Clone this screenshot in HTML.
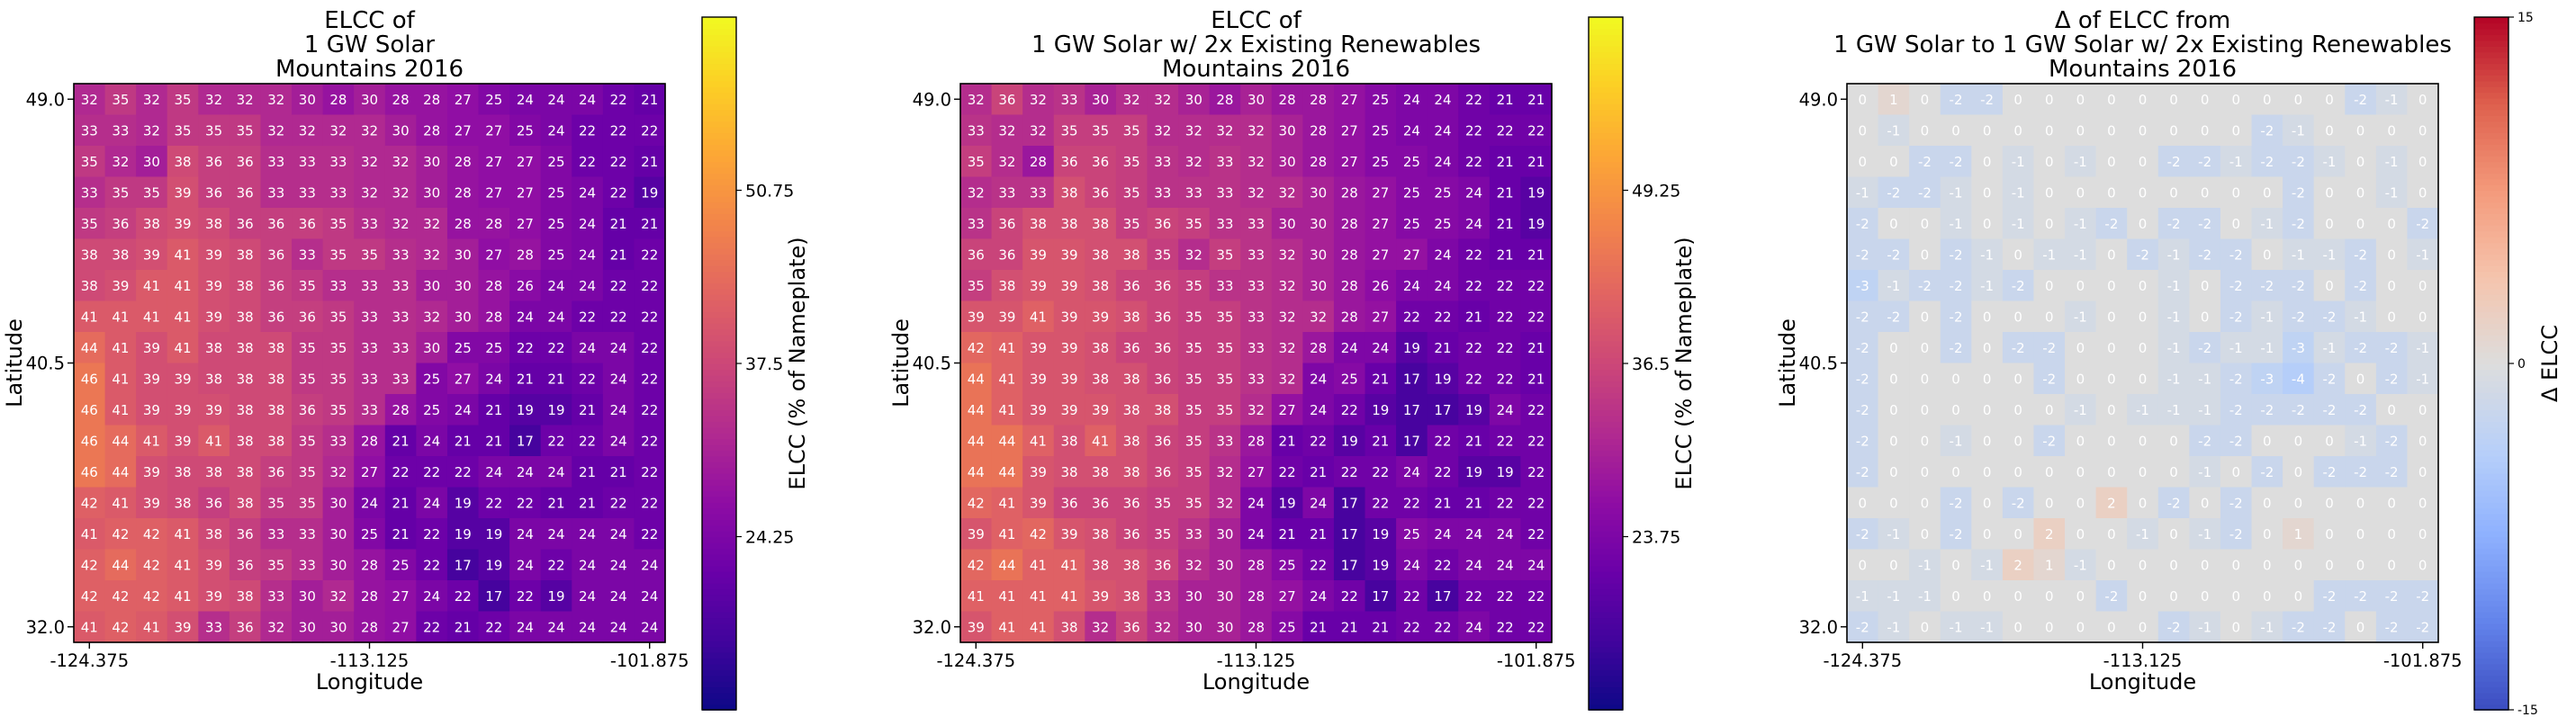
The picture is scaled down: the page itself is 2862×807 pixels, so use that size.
<!DOCTYPE html>
<html><head><meta charset="utf-8">
<style>
html,body{margin:0;padding:0;background:#fff;}
svg{display:block;font-family:"DejaVu Sans","Liberation Sans",sans-serif;}
</style></head>
<body>
<svg id="fig" width="2862" height="807" viewBox="0 0 2862 807" xmlns="http://www.w3.org/2000/svg"></svg>
<script>
const xTickLabels = ["-124.375","-113.125","-101.875"];
const xTickIdx = [0,9,18];
const yTickLabels = ["49.0","40.5","32.0"];
const yTickIdx = [0,8.5,17];
const elccSolar = [
[32,35,32,35,32,32,32,30,28,30,28,28,27,25,24,24,24,22,21],
[33,33,32,35,35,35,32,32,32,32,30,28,27,27,25,24,22,22,22],
[35,32,30,38,36,36,33,33,33,32,32,30,28,27,27,25,22,22,21],
[33,35,35,39,36,36,33,33,33,32,32,30,28,27,27,25,24,22,19],
[35,36,38,39,38,36,36,36,35,33,32,32,28,28,27,25,24,21,21],
[38,38,39,41,39,38,36,33,35,35,33,32,30,27,28,25,24,21,22],
[38,39,41,41,39,38,36,35,33,33,33,30,30,28,26,24,24,22,22],
[41,41,41,41,39,38,36,36,35,33,33,32,30,28,24,24,22,22,22],
[44,41,39,41,38,38,38,35,35,33,33,30,25,25,22,22,24,24,22],
[46,41,39,39,38,38,38,35,35,33,33,25,27,24,21,21,22,24,22],
[46,41,39,39,39,38,38,36,35,33,28,25,24,21,19,19,21,24,22],
[46,44,41,39,41,38,38,35,33,28,21,24,21,21,17,22,22,24,22],
[46,44,39,38,38,38,36,35,32,27,22,22,22,24,24,24,21,21,22],
[42,41,39,38,36,38,35,35,30,24,21,24,19,22,22,21,21,22,22],
[41,42,42,41,38,36,33,33,30,25,21,22,19,19,24,24,24,24,22],
[42,44,42,41,39,36,35,33,30,28,25,22,17,19,24,22,24,24,24],
[42,42,42,41,39,38,33,30,32,28,27,24,22,17,22,19,24,24,24],
[41,42,41,39,33,36,32,30,30,28,27,22,21,22,24,24,24,24,24]];
const elccSolarRenew = [
[32,36,32,33,30,32,32,30,28,30,28,28,27,25,24,24,22,21,21],
[33,32,32,35,35,35,32,32,32,32,30,28,27,25,24,24,22,22,22],
[35,32,28,36,36,35,33,32,33,32,30,28,27,25,25,24,22,21,21],
[32,33,33,38,36,35,33,33,33,32,32,30,28,27,25,25,24,21,19],
[33,36,38,38,38,35,36,35,33,33,30,30,28,27,25,25,24,21,19],
[36,36,39,39,38,38,35,32,35,33,32,30,28,27,27,24,22,21,21],
[35,38,39,39,38,36,36,35,33,33,32,30,28,26,24,24,22,22,22],
[39,39,41,39,39,38,36,35,35,33,32,32,28,27,22,22,21,22,22],
[42,41,39,39,38,36,36,35,35,33,32,28,24,24,19,21,22,22,21],
[44,41,39,39,38,38,36,35,35,33,32,24,25,21,17,19,22,22,21],
[44,41,39,39,39,38,38,35,35,32,27,24,22,19,17,17,19,24,22],
[44,44,41,38,41,38,36,35,33,28,21,22,19,21,17,22,21,22,22],
[44,44,39,38,38,38,36,35,32,27,22,21,22,22,24,22,19,19,22],
[42,41,39,36,36,36,35,35,32,24,19,24,17,22,22,21,21,22,22],
[39,41,42,39,38,36,35,33,30,24,21,21,17,19,25,24,24,24,22],
[42,44,41,41,38,38,36,32,30,28,25,22,17,19,24,22,24,24,24],
[41,41,41,41,39,38,33,30,30,28,27,24,22,17,22,17,22,22,22],
[39,41,41,38,32,36,32,30,30,28,25,21,21,21,22,22,24,22,22]];
const cb1Ticks = [24.25,37.5,50.75];
const cb2Ticks = [23.75,36.5,49.25];
const cb3Ticks = [-15,0,15];

const NS="http://www.w3.org/2000/svg";
const svg=document.getElementById('fig');
function mk(tag,attrs,parent){const e=document.createElementNS(NS,tag);for(const k in attrs)e.setAttribute(k,attrs[k]);(parent||svg).appendChild(e);return e;}
const plasmaStops=[[13,8,135],[65,4,157],[106,0,168],[143,13,164],[177,42,144],[204,71,120],[225,100,98],[242,132,75],[252,166,54],[252,206,37],[240,249,33]];
const cwStops=[[0,[59,76,192]],[0.125,[98,130,234]],[0.25,[141,176,254]],[0.375,[184,208,249]],[0.5,[221,221,221]],[0.625,[245,196,173]],[0.75,[244,154,123]],[0.875,[222,96,77]],[1,[180,4,38]]];
function plasma(t){t=Math.max(0,Math.min(1,t));const p=t*10,i=Math.min(9,Math.floor(p)),f=p-i;const a=plasmaStops[i],b=plasmaStops[i+1];return `rgb(${a.map((v,k)=>Math.round(v+(b[k]-v)*f)).join(',')})`;}
function coolwarm(t){t=Math.max(0,Math.min(1,t));for(let i=0;i<cwStops.length-1;i++){const[t0,a]=cwStops[i],[t1,b]=cwStops[i+1];if(t<=t1){const f=(t-t0)/(t1-t0);return `rgb(${a.map((v,k)=>Math.round(v+(b[k]-v)*f)).join(',')})`;}}return 'rgb(180,4,38)';}

const TOP=93, W=657, H=621, NC=19, NR=18, CW=W/NC, CH=H/NR;
const CBY0=19, CBY1=789;

function panel(idx,left,data,cmap,vmin,vmax,titles,cbLeft,cbTicks,cbLabel,cbFont,cbLabOff){
  const g=mk('g',{});
  
  
  const xS=c=>left+(c+0.5)*CW, yS=r=>TOP+(r+0.5)*CH;
  for(let r=0;r<NR;r++)for(let c=0;c<NC;c++){
    const v=data[r][c];
    const rc=mk('rect',{x:left+c*CW,y:TOP+r*CH,width:CW+0.6,height:CH+0.6,fill:cmap((v-vmin)/(vmax-vmin))},g);
    
    
    const t=mk('text',{x:xS(c),y:yS(r)+5.5,'text-anchor':'middle','font-size':15,fill:'#fff'},g);
    
    
    t.textContent=v;
  }
  const fr=mk('rect',{x:left,y:TOP,width:W,height:H,fill:'none',stroke:'#000','stroke-width':1.6},g);
  
  
  xTickIdx.forEach((ci,k)=>{
    mk('line',{x1:xS(ci),x2:xS(ci),y1:TOP+H,y2:TOP+H+7,stroke:'#000','stroke-width':1.4},g);
    const t=mk('text',{x:xS(ci),y:TOP+H+27,'text-anchor':'middle','font-size':19.5,fill:'#000'},g);
    
    
    t.textContent=xTickLabels[k];
  });
  yTickIdx.forEach((ri,k)=>{
    mk('line',{x1:left-7,x2:left,y1:yS(ri),y2:yS(ri),stroke:'#000','stroke-width':1.4},g);
    const t=mk('text',{x:left-10,y:yS(ri)+7,'text-anchor':'end','font-size':19.5,fill:'#000'},g);
    
    
    t.textContent=yTickLabels[k];
  });
  const xl=mk('text',{x:left+W/2,y:766,'text-anchor':'middle','font-size':24,fill:'#000'},g);
  
  
  xl.textContent='Longitude';
  const yl=mk('text',{x:0,y:0,'text-anchor':'middle','font-size':24,fill:'#000',transform:`translate(${left-58},${TOP+H/2}) rotate(-90)`},g);
  
  
  yl.textContent='Latitude';
  titles.forEach((s,k)=>{
    const t=mk('text',{x:left+W/2,y:31+k*27,'text-anchor':'middle','font-size':26,fill:'#000'},g);
    
    
    t.textContent=s;
  });
  const cb=mk('g',{},g);
  
  
  const n=120,hh=(CBY1-CBY0)/n;
  for(let i=0;i<n;i++){mk('rect',{x:cbLeft,y:CBY1-(i+1)*hh,width:38,height:hh+0.8,fill:cmap((i+0.5)/n)},cb);}
  mk('rect',{x:cbLeft,y:CBY0,width:38,height:CBY1-CBY0,fill:'none',stroke:'#000','stroke-width':1.4},cb);
  const cy=v=>CBY1-(v-vmin)/(vmax-vmin)*(CBY1-CBY0);
  cbTicks.forEach(v=>{
    mk('line',{x1:cbLeft+38,x2:cbLeft+44,y1:cy(v),y2:cy(v),stroke:'#000','stroke-width':1.2},cb);
    const t=mk('text',{x:cbLeft+48,y:cy(v)+cbFont*0.37,'font-size':cbFont,fill:'#000'},cb);
    
    
    t.textContent=String(v);
  });
  const cl=mk('text',{x:0,y:0,'text-anchor':'middle','font-size':24,fill:'#000',transform:`translate(${cbLeft+cbLabOff},${(CBY0+CBY1)/2}) rotate(-90)`},cb);
  
  
  cl.textContent=cbLabel;
}
const delta=elccSolarRenew.map((row,r)=>row.map((v,c)=>v-elccSolar[r][c]));
panel(0,82,elccSolar,plasma,11,64,["ELCC of","1 GW Solar","Mountains 2016"],780,cb1Ticks,"ELCC (% of Nameplate)",19,114);
panel(1,1067,elccSolarRenew,plasma,11,62,["ELCC of","1 GW Solar w/ 2x Existing Renewables","Mountains 2016"],1765,cb2Ticks,"ELCC (% of Nameplate)",19,114);
panel(2,2052,delta,coolwarm,-15,15,["\u0394 of ELCC from","1 GW Solar to 1 GW Solar w/ 2x Existing Renewables","Mountains 2016"],2749,cb3Ticks,"\u0394 ELCC",14,92);
</script>
</body></html>
